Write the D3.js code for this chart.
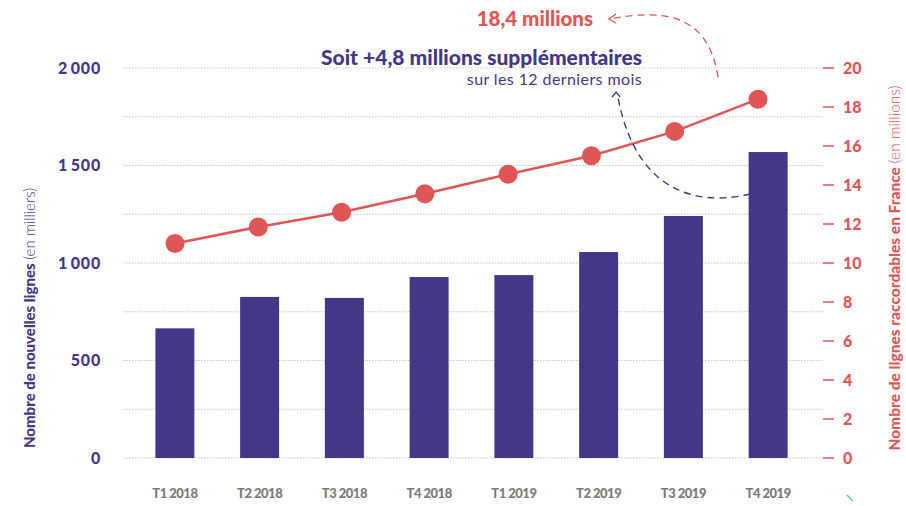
<!DOCTYPE html>
<html>
<head>
<meta charset="utf-8">
<script src="https://cdn.jsdelivr.net/npm/d3@7"></script>
<style>
  body { margin: 0; background: #fff; }
  svg { font-family: Lato, "Open Sans", sans-serif; }
</style>
</head>
<body>
<div id="chart"></div>
<script>
// data
var quarters = ["T1 2018", "T2 2018", "T3 2018", "T4 2018", "T1 2019", "T2 2019", "T3 2019", "T4 2019"];
var newLines = [665, 826, 821, 928, 938, 1056, 1241, 1569];     // milliers
var eligible = [11.0, 11.85, 12.6, 13.55, 14.55, 15.5, 16.75, 18.4]; // millions
var leftTicks = [0, 500, 1000, 1500, 2000];
var leftTickLabels = ["0", "500", "1\u2009000", "1\u2009500", "2\u2009000"];
var rightTicks = [0, 2, 4, 6, 8, 10, 12, 14, 16, 18, 20];
var gridValues = [0, 250, 500, 750, 1000, 1250, 1500, 1750, 2000];

var purple = "#433789", red = "#e05555", grey = "#7a7a7a";
var width = 906, height = 506;

var svg = d3.select("#chart").append("svg")
  .attr("width", width)
  .attr("height", height);

var x = d3.scaleBand()
  .domain(quarters)
  .range([132.5, 810.5])
  .paddingInner(0.54)
  .paddingOuter(0.27);

// the line in the original is laid out on a slightly narrower spacing than the bars
var xLine = d3.scalePoint()
  .domain(quarters)
  .range([175, 758]);

var yL = d3.scaleLinear().domain([0, 2000]).range([458, 68]);
var yR = d3.scaleLinear().domain([0, 20]).range([458, 68]);

// grid
svg.append("g").selectAll("line")
  .data(gridValues)
  .enter().append("line")
  .attr("x1", 123).attr("x2", 823)
  .attr("y1", function(d) { return yL(d); })
  .attr("y2", function(d) { return yL(d); })
  .attr("stroke", "#b8b8b8")
  .attr("stroke-width", 0.8)
  .attr("stroke-dasharray", "1.5,1.5");

// left axis labels
svg.append("g").selectAll("text")
  .data(leftTicks)
  .enter().append("text")
  .attr("x", 101)
  .attr("y", function(d) { return yL(d) + 5.5; })
  .attr("text-anchor", "end")
  .attr("fill", purple)
  .style("font-size", "16px")
  .style("font-weight", 900)
  .style("letter-spacing", "0.8px")
  .text(function(d, i) { return leftTickLabels[i]; });

// right axis
var rAxis = svg.append("g").selectAll("g")
  .data(rightTicks)
  .enter().append("g")
  .attr("transform", function(d) { return "translate(0," + yR(d) + ")"; });
rAxis.append("line")
  .attr("x1", 823).attr("x2", 834)
  .attr("stroke", red).attr("stroke-width", 1.5);
rAxis.append("text")
  .attr("x", 843).attr("y", 5.5)
  .attr("fill", red)
  .style("font-size", "16px")
  .style("font-weight", 900)
  .text(function(d) { return d; });

// bars
svg.append("g").selectAll("rect")
  .data(quarters)
  .enter().append("rect")
  .attr("x", function(d) { return x(d); })
  .attr("width", x.bandwidth())
  .attr("y", function(d, i) { return yL(newLines[i]); })
  .attr("height", function(d, i) { return yL(0) - yL(newLines[i]); })
  .attr("fill", purple);

// x labels
svg.append("g").selectAll("text")
  .data(quarters)
  .enter().append("text")
  .attr("x", function(d) { return x(d) + x.bandwidth() / 2; })
  .attr("y", 498)
  .attr("text-anchor", "middle")
  .attr("fill", grey)
  .style("font-size", "13px")
  .style("font-weight", 900)
  .style("letter-spacing", "-0.5px")
  .text(function(d) { return d; });

// line
var line = d3.line()
  .x(function(d, i) { return xLine(quarters[i]); })
  .y(function(d) { return yR(d); });

svg.append("path")
  .datum(eligible)
  .attr("d", line)
  .attr("fill", "none")
  .attr("stroke", red)
  .attr("stroke-width", 2.5);

svg.append("g").selectAll("circle")
  .data(eligible)
  .enter().append("circle")
  .attr("cx", function(d, i) { return xLine(quarters[i]); })
  .attr("cy", function(d) { return yR(d); })
  .attr("r", 9.5)
  .attr("fill", red);

// axis titles
var lt = svg.append("text")
  .attr("transform", "translate(35,318) rotate(-90)")
  .attr("text-anchor", "middle")
  .attr("fill", purple)
  .style("font-size", "15px");
lt.append("tspan").style("font-weight", 900).text("Nombre de nouvelles lignes ");
lt.append("tspan").style("font-weight", 300).text("(en milliers)");

var rt = svg.append("text")
  .attr("transform", "translate(900,268) rotate(-90)")
  .attr("text-anchor", "middle")
  .attr("fill", red)
  .style("font-size", "15.5px");
rt.append("tspan").style("font-weight", 900).text("Nombre de lignes raccordables en France ");
rt.append("tspan").style("font-weight", 300).text("(en millions)");

// annotations
var last = eligible.length - 1;
var lastX = xLine(quarters[last]);
var lastY = yR(eligible[last]);
var barX = x(quarters[last]) + x.bandwidth() / 2;

svg.append("text")
  .attr("x", 593).attr("y", 26)
  .attr("text-anchor", "end")
  .attr("fill", red)
  .style("font-size", "20.5px")
  .style("font-weight", 900)
  .text("18,4 millions");

svg.append("path")
  .attr("d", "M" + (lastX - 40) + "," + (lastY - 22) + " C" + (lastX - 50) + ",10 " + (lastX - 100) + ",10 " + (lastX - 148) + ",19")
  .attr("fill", "none")
  .attr("stroke", red)
  .attr("stroke-width", 1.3)
  .attr("stroke-dasharray", "7,5");
svg.append("path")
  .attr("d", "M" + (lastX - 142) + ",14 L" + (lastX - 149) + ",19 L" + (lastX - 142) + ",23")
  .attr("fill", "none")
  .attr("stroke", red)
  .attr("stroke-width", 1.3);

svg.append("text")
  .attr("x", 642).attr("y", 65)
  .attr("text-anchor", "end")
  .attr("fill", purple)
  .style("font-size", "21px")
  .style("font-weight", 900)
  .text("Soit +4,8 millions supplémentaires");

svg.append("text")
  .attr("x", 642).attr("y", 85)
  .attr("text-anchor", "end")
  .attr("fill", purple)
  .style("font-size", "16px")
  .style("font-weight", 400)
  .style("letter-spacing", "0.4px")
  .text("sur les 12 derniers mois");

var barTop = yL(newLines[last]);
svg.append("path")
  .attr("d", "M" + (barX - 18) + "," + (barTop + 42) + " C" + (barX - 60) + "," + (barTop + 52) + " " + (barX - 130) + "," + (barTop + 50) + " " + (barX - 150) + ",98")
  .attr("fill", "none")
  .attr("stroke", purple)
  .attr("stroke-width", 1.4)
  .attr("stroke-dasharray", "7,5");
svg.append("path")
  .attr("d", "M" + (barX - 156) + ",97 L" + (barX - 152) + ",92 L" + (barX - 148) + ",97")
  .attr("fill", "none")
  .attr("stroke", purple)
  .attr("stroke-width", 1.3);

// small teal mark, bottom right
svg.append("line")
  .attr("x1", 847).attr("y1", 495).attr("x2", 853).attr("y2", 501)
  .attr("stroke", "#5bbfcf").attr("stroke-width", 1.5);
</script>
</body>
</html>
